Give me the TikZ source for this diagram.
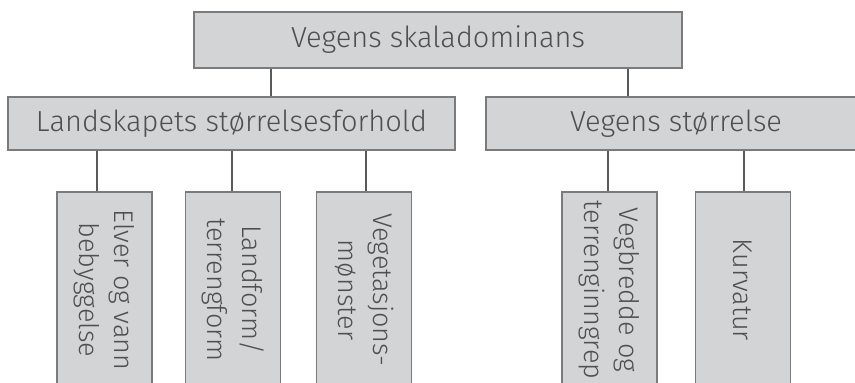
\documentclass[tikz,border=0pt]{standalone}
\usepackage{fontspec}
\setmainfont{Fira Sans Light}
\definecolor{boxfill}{HTML}{D3D4D6}
\definecolor{boxline}{HTML}{7A7B7D}
\definecolor{ink}{HTML}{58595B}
\definecolor{label}{HTML}{4E4F51}
\begin{document}
\begin{tikzpicture}[x=1pt,y=1pt,
  box/.style={draw=boxline, line width=1.2pt, fill=boxfill, text=label,
    inner sep=0pt, rectangle},
  headbox/.style={box, font=\fontsize{29}{34}\selectfont},
  leafbox/.style={box, rotate=-90, align=center,
    minimum width=196, minimum height=95,
    font=\fontsize{27}{35}\selectfont},
  link/.style={draw=ink, line width=2pt}]
\useasboundingbox (0,0) rectangle (855,383);

% level 1
\node[headbox, minimum width=488, minimum height=56] (top) at (438,343) {Vegens skaladominans};

% level 2
\node[headbox, minimum width=447, minimum height=53] (land) at (231.5,259.5) {Landskapets størrelsesforhold};
\node[headbox, minimum width=380, minimum height=53] (veg) at (676,259.5) {Vegens størrelse};

% level 3
\node[leafbox] (elver) at (104.5,93) {Elver og vann\\bebyggelse};
\node[leafbox] (landform) at (233,93) {Landform/\\terrengform};
\node[leafbox] (vegetasjon) at (364,93) {Vegetasjons-\\mønster};
\node[leafbox] (vegbredde) at (609.5,93) {Vegbredde og\\terrenginngrep};
\node[leafbox] (kurvatur) at (743,93) {Kurvatur};

% connectors
\draw[link] (271,0 |- top.south) -- (271,0 |- land.north);
\draw[link] (628,0 |- top.south) -- (628,0 |- veg.north);
\draw[link] (97,0 |- land.south) -- (97,0 |- elver.west);
\draw[link] (232,0 |- land.south) -- (232,0 |- landform.west);
\draw[link] (366,0 |- land.south) -- (366,0 |- vegetasjon.west);
\draw[link] (608,0 |- veg.south) -- (608,0 |- vegbredde.west);
\draw[link] (744,0 |- veg.south) -- (744,0 |- kurvatur.west);
\end{tikzpicture}
\end{document}
